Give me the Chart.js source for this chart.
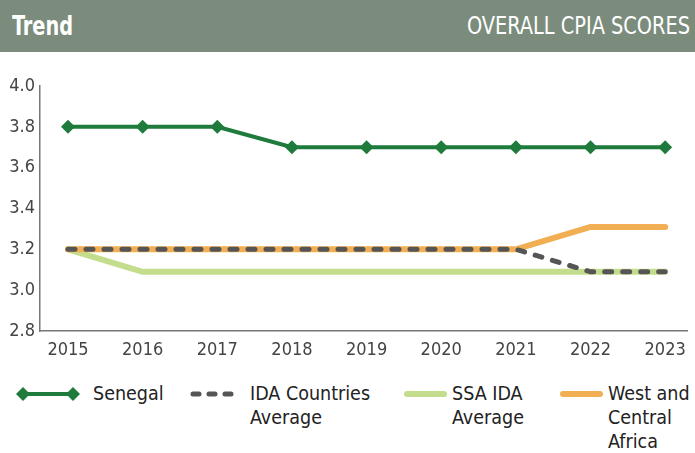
<!DOCTYPE html>
<html lang="en">
<head>
    <meta charset="UTF-8">
    <title>Trend - Overall CPIA Scores</title>
    <script src="https://cdn.jsdelivr.net/npm/chart.js"></script>
    <style>
        body {
            margin: 0;
            width: 695px;
            height: 453px;
            background: #fff;
            font-family: "DejaVu Sans Condensed", "DejaVu Sans", sans-serif;
            position: relative;
            overflow: hidden;
        }

        .header {
            position: absolute;
            left: 0;
            top: 0;
            width: 695px;
            height: 52px;
            background: #7b8c7c;
            color: #fff;
        }

        .header span {
            position: absolute;
            white-space: nowrap;
            transform-origin: left center;
        }

        #title {
            left: 12px;
            top: 10px;
            font-weight: bold;
            font-size: 27px;
        }

        #subtitle {
            left: 467px;
            top: 11px;
            font-size: 25px;
        }

        .chartBox {
            position: absolute;
            left: 0;
            top: 52px;
            width: 695px;
            height: 320px;
        }

        .legend-item {
            position: absolute;
            top: 382px;
        }

        .legend-item svg {
            position: absolute;
            top: 0;
        }

        .legend-item div {
            position: absolute;
            top: 0;
            font-size: 19.5px;
            line-height: 24px;
            color: #222;
            white-space: nowrap;
        }
    </style>
</head>
<body>

<div class="header">
    <span id="title">Trend</span>
    <span id="subtitle">OVERALL CPIA SCORES</span>
</div>

<div class="chartBox">
    <canvas id="cpiaChart"></canvas>
</div>

<div class="legend-item" style="left:0">
    <svg width="90" height="24">
        <line x1="22" y1="12" x2="74" y2="12" stroke="#1e7b3b" stroke-width="4"/>
        <polygon points="16,12 23,5 30,12 23,19" fill="#1e7b3b"/>
        <polygon points="66,12 73,5 80,12 73,19" fill="#1e7b3b"/>
    </svg>
    <div style="left:93px">Senegal</div>
</div>
<div class="legend-item" style="left:186px">
    <svg width="60" height="24">
        <line x1="7" y1="12" x2="50" y2="12" stroke="#555" stroke-width="5"
              stroke-linecap="round" stroke-dasharray="6 10"/>
    </svg>
    <div style="left:64px">IDA Countries<br>Average</div>
</div>
<div class="legend-item" style="left:400px">
    <svg width="50" height="24">
        <line x1="7" y1="12" x2="44" y2="12" stroke="#c4dd8c" stroke-width="6" stroke-linecap="round"/>
    </svg>
    <div style="left:52px">SSA IDA<br>Average</div>
</div>
<div class="legend-item" style="left:556px">
    <svg width="50" height="24">
        <line x1="7" y1="12" x2="44" y2="12" stroke="#f2ae52" stroke-width="6" stroke-linecap="round"/>
    </svg>
    <div style="left:52px">West and<br>Central<br>Africa</div>
</div>

<script>
    const years = [2015, 2016, 2017, 2018, 2019, 2020, 2021, 2022, 2023];
    const senegal = [3.8, 3.8, 3.8, 3.7, 3.7, 3.7, 3.7, 3.7, 3.7];
    const idaAverage = [3.2, 3.2, 3.2, 3.2, 3.2, 3.2, 3.2, 3.09, 3.09];
    const ssaIdaAverage = [3.2, 3.09, 3.09, 3.09, 3.09, 3.09, 3.09, 3.09, 3.09];
    const westCentralAfrica = [3.2, 3.2, 3.2, 3.2, 3.2, 3.2, 3.2, 3.31, 3.31];
    const yTicks = [2.8, 3.0, 3.2, 3.4, 3.6, 3.8, 4.0];

    // squeeze header texts to the widths seen in the reference
    function fitWidth(id, target) {
        const el = document.getElementById(id);
        const w = el.getBoundingClientRect().width;
        el.style.transform = 'scaleX(' + (target / w) + ')';
    }
    fitWidth('title', 61);
    fitWidth('subtitle', 223);

    function pts(arr) {
        return arr.map(function(v, i) { return { x: years[i], y: v }; });
    }

    const tickFont = { family: '"DejaVu Sans Condensed", "DejaVu Sans", sans-serif', size: 18 };

    const ctx = document.getElementById('cpiaChart').getContext('2d');
    new Chart(ctx, {
        type: 'line',
        data: {
            datasets: [
                {
                    label: 'Senegal',
                    data: pts(senegal),
                    borderColor: '#1e7b3b',
                    backgroundColor: '#1e7b3b',
                    borderWidth: 4,
                    pointStyle: 'rectRot',
                    pointRadius: 7,
                    pointBorderWidth: 0,
                    order: 0
                },
                {
                    label: 'IDA Countries Average',
                    data: pts(idaAverage),
                    borderColor: '#555555',
                    borderWidth: 5,
                    borderDash: [7, 11],
                    borderCapStyle: 'round',
                    pointRadius: 0,
                    order: 1
                },
                {
                    label: 'SSA IDA Average',
                    data: pts(ssaIdaAverage),
                    borderColor: '#c4dd8c',
                    borderWidth: 6,
                    borderCapStyle: 'round',
                    pointRadius: 0,
                    order: 3
                },
                {
                    label: 'West and Central Africa',
                    data: pts(westCentralAfrica),
                    borderColor: '#f2ae52',
                    borderWidth: 6,
                    borderCapStyle: 'round',
                    pointRadius: 0,
                    order: 2
                }
            ]
        },
        options: {
            responsive: true,
            maintainAspectRatio: false,
            animation: false,
            layout: {
                padding: { top: 34, right: 0, left: 0, bottom: 0 }
            },
            plugins: {
                legend: { display: false },
                tooltip: { enabled: false }
            },
            scales: {
                x: {
                    type: 'linear',
                    min: 2014.625,
                    max: 2023.3,
                    afterBuildTicks: function(axis) {
                        axis.ticks = years.map(function(y) { return { value: y }; });
                    },
                    afterFit: function(axis) { axis.height = 41; },
                    grid: { display: false, drawTicks: false },
                    border: { display: true, color: '#777', width: 1.5 },
                    ticks: {
                        font: tickFont,
                        color: '#444',
                        padding: 9,
                        maxRotation: 0,
                        callback: function(v) { return String(v); }
                    }
                },
                y: {
                    min: 2.8,
                    max: 4.0,
                    afterBuildTicks: function(axis) {
                        axis.ticks = yTicks.map(function(v) { return { value: v }; });
                    },
                    afterFit: function(axis) { axis.width = 40; },
                    grid: { display: false, drawTicks: false },
                    border: { display: true, color: '#777', width: 1.5 },
                    ticks: {
                        font: tickFont,
                        color: '#444',
                        padding: 5,
                        callback: function(v) { return v.toFixed(1); }
                    }
                }
            }
        }
    });
</script>

</body>
</html>
